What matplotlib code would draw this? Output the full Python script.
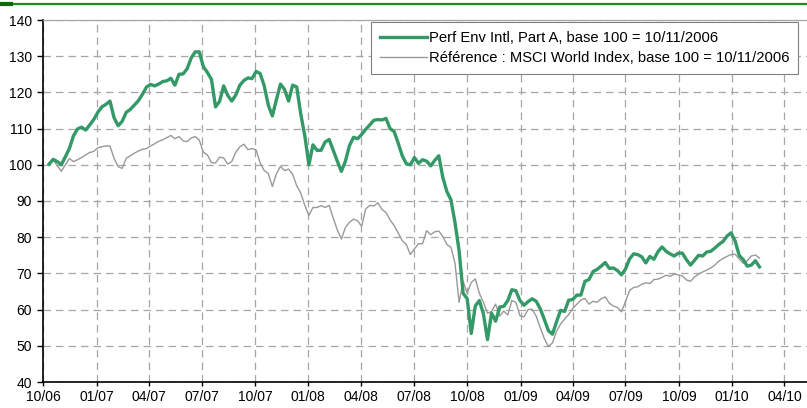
import numpy as np
import pandas as pd
import matplotlib
matplotlib.use("Agg")
import matplotlib.pyplot as plt
import matplotlib.dates as mdates
from matplotlib.lines import Line2D

plt.rcParams["font.family"] = ["Liberation Sans", "DejaVu Sans"]

# weekly closes, base 100 on the first date
start_date = "2006-10-11"
fund = [
    100.2, 101.5, 100.9, 100.0, 102.2, 104.5, 108.0, 109.9, 110.4, 109.6,
    111.0, 112.5, 114.5, 116.0, 116.7, 117.6, 113.0, 110.8, 112.0, 114.5,
    115.3, 116.5, 117.7, 119.5, 121.5, 122.2, 121.8, 122.3, 123.0, 123.2,
    123.9, 122.0, 125.0, 125.1, 126.5, 129.5, 131.2, 131.2, 127.1, 125.5,
    123.6, 116.0, 117.5, 121.8, 119.2, 117.6, 119.3, 122.0, 123.3, 124.0,
    123.8, 125.8, 125.2, 121.8, 116.5, 113.5, 118.0, 122.3, 120.8, 117.6,
    122.0, 121.5, 114.0, 108.0, 100.0, 105.5, 104.0, 104.0, 106.3, 107.0,
    104.0, 101.0, 98.2, 101.0, 105.3, 107.6, 107.2, 108.4, 109.8, 111.0,
    112.3, 112.5, 112.4, 112.8, 110.0, 109.2, 106.0, 102.5, 100.3, 100.0,
    102.0, 100.4, 101.4, 101.0, 99.7, 101.2, 102.5, 96.5, 92.6, 90.3,
    84.0, 76.3, 64.5, 63.0, 53.4, 61.0, 62.5, 58.8, 51.7, 59.0,
    56.8, 60.7, 60.9, 62.5, 65.5, 65.2, 62.5, 61.2, 62.2, 63.0,
    62.3, 60.2, 57.3, 54.2, 53.2, 56.6, 59.8, 59.5, 62.6, 62.8,
    64.0, 64.0, 67.8, 68.3, 70.5, 71.1, 72.0, 73.0, 71.4, 71.5,
    70.8, 69.6, 71.2, 74.0, 75.4, 75.2, 74.6, 72.9, 74.7, 73.9,
    76.0, 77.3, 76.1, 75.4, 74.8, 75.6, 75.6, 73.8, 72.3, 73.6,
    75.0, 74.8, 75.9, 76.1, 77.0, 78.0, 78.8, 80.3, 81.2, 79.0,
    75.0, 73.8, 72.0, 72.3, 73.5, 71.8,
]
benchmark = [
    100.0, 101.3, 99.8, 98.2, 100.0, 101.7, 100.9, 101.4, 102.0, 102.7,
    103.4, 103.7, 104.7, 105.0, 105.2, 105.2, 101.8, 99.5, 99.0, 101.8,
    102.5, 103.2, 103.8, 104.3, 104.5, 105.2, 105.8, 106.5, 106.9, 107.5,
    108.1, 107.2, 107.8, 106.6, 106.4, 107.4, 107.8, 106.8, 103.5, 102.7,
    100.6, 100.5, 102.1, 101.9, 100.2, 100.9, 103.5, 105.0, 105.7, 104.2,
    104.5, 104.1, 100.5, 98.4, 97.6, 94.0, 97.5, 99.6, 98.4, 98.8,
    97.4, 94.2, 92.2, 88.8, 86.0, 88.2, 88.2, 88.7, 88.2, 88.8,
    85.3, 82.0, 79.5, 82.7, 84.1, 85.0, 84.5, 83.0, 87.8, 88.8,
    88.6, 89.5, 87.7, 86.8, 84.8, 83.2, 81.2, 79.0, 78.0, 75.2,
    76.8, 78.2, 78.2, 81.8, 80.7, 81.5, 81.7, 80.2, 78.0, 77.2,
    72.8, 62.0, 67.8, 64.5, 67.5, 68.5, 64.5, 62.0, 59.0, 59.5,
    61.5, 58.2, 59.6, 58.5, 62.5, 62.0, 58.3, 58.0, 60.0, 60.1,
    58.2, 55.0, 52.0, 49.8, 50.8, 54.0, 56.0, 57.4, 58.6, 60.3,
    61.5, 62.6, 63.1, 61.5, 62.3, 62.0, 63.0, 63.5, 61.8, 61.0,
    60.6, 59.4, 62.2, 65.3, 66.1, 66.3, 67.0, 67.4, 67.2, 68.3,
    68.4, 68.9, 69.5, 69.2, 69.8, 69.6, 69.3, 68.2, 67.8, 69.0,
    69.8, 70.4, 70.9, 71.5, 72.3, 73.4, 74.1, 74.7, 75.2, 75.3,
    74.0, 72.8, 73.5, 74.8, 75.1, 74.2,
]
labels = [
    "Perf Env Intl, Part A, base 100 = 10/11/2006",
    "Référence : MSCI World Index, base 100 = 10/11/2006",
]
y_ticks = list(range(40, 141, 10))

dates = pd.date_range(start_date, periods=len(fund), freq="7D")

fig = plt.figure(figsize=(8.07, 4.08), dpi=100)
ax = fig.add_axes([43.3 / 807, 26 / 408, 1 - 43.3 / 807, 362 / 408])

h1, = ax.plot(dates, fund, color="#339966", lw=2.4, label=labels[0], zorder=3)
h2, = ax.plot(dates, benchmark, color="#999999", lw=1.0, label=labels[1], zorder=2)

ax.set_xlim(pd.Timestamp("2006-10-01"), pd.Timestamp("2010-05-10"))
ax.set_ylim(40, 140)
ax.set_yticks(y_ticks)
ax.xaxis.set_major_locator(mdates.MonthLocator(bymonth=[1, 4, 7, 10]))
ax.xaxis.set_major_formatter(mdates.DateFormatter("%m/%y"))

ax.grid(True, color="#a6a6a6", linestyle=(0, (6, 4)), linewidth=0.9)
ax.set_axisbelow(True)
ax.spines["right"].set_visible(False)
ax.spines["top"].set_color("#a6a6a6")
ax.spines["top"].set_linewidth(0.9)
ax.spines["left"].set_linewidth(1.2)
ax.spines["bottom"].set_linewidth(1.2)
ax.tick_params(axis="y", direction="out", length=4, width=1, pad=4, labelsize=10)
ax.tick_params(axis="x", direction="out", length=3, width=1, pad=2.5, labelsize=10)

leg = ax.legend(
    handles=[h1, h2],
    loc="upper right",
    bbox_to_anchor=(798 / 807, 1 - 22 / 408),
    bbox_transform=fig.transFigure,
    borderaxespad=0,
    fontsize=10.6,
    frameon=True,
    fancybox=False,
    edgecolor="#808080",
    framealpha=1,
    handlelength=3.2,
    handletextpad=0.1,
    borderpad=0.6,
    labelspacing=0.4,
)
leg.get_frame().set_linewidth(0.8)

# green rule across the top of the page
fig.add_artist(Line2D([0, 1], [1 - 3.5 / 408] * 2, color="#1a8f1a", lw=1.6,
                      transform=fig.transFigure))
fig.add_artist(Line2D([0, 11 / 807], [1 - 3.5 / 408] * 2, color="#0b6b0b", lw=3,
                      transform=fig.transFigure))

fig.savefig("out.png", dpi=100)
